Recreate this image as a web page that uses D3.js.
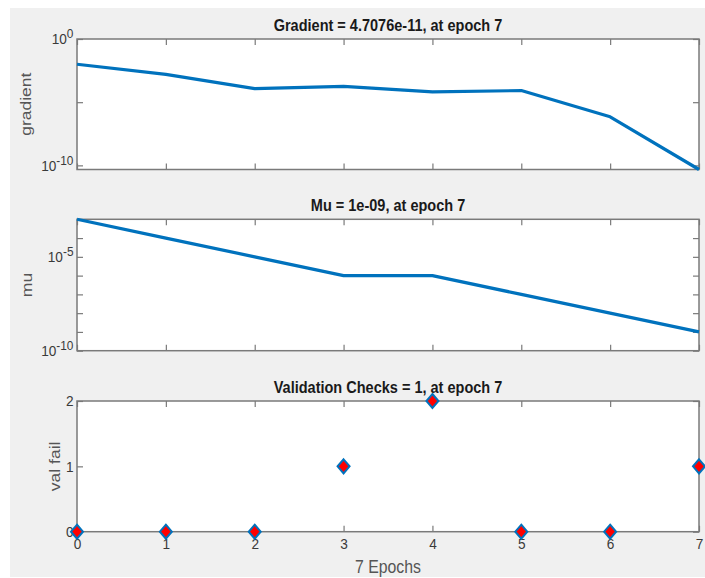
<!DOCTYPE html>
<html>
<head>
<meta charset="utf-8">
<script src="https://cdn.jsdelivr.net/npm/d3@7"></script>
<style>
body { margin: 0; background: #fff; }
svg text { font-family: "Liberation Sans", Arial, sans-serif; }
</style>
</head>
<body>
<div id="chart"></div>
<script>
// values
const epochs = [0, 1, 2, 3, 4, 5, 6, 7]
const gradient = [1e-2, 1.6e-3, 1.2e-4, 1.8e-4, 6.6e-5, 8.3e-5, 7e-7, 4.7076e-11]
const mu = [1e-3, 1e-4, 1e-5, 1e-6, 1e-6, 1e-7, 1e-8, 1e-9]
const valFail = [0, 0, 0, 1, 2, 0, 0, 1]

const titles = ['Gradient = 4.7076e-11, at epoch 7', 'Mu = 1e-09, at epoch 7', 'Validation Checks = 1, at epoch 7']
const yLabels = ['gradient', 'mu', 'val fail']
const gradTickExp = [0, -5, -10]
const gradLabelExp = [0, -10]
const muTickExp = [-4, -5, -6, -7, -8, -9, -10]
const muLabelExp = [-5, -10]
const valTicks = [0, 1, 2]
const xTickLabels = ['0', '1', '2', '3', '4', '5', '6', '7']
const xLabel = '7 Epochs'

const W = 705, H = 578
const left = 77, right = 699
const sx = 0.88 // text in the picture is a little narrow
const blue = '#0072BD', axisCol = '#7a7a7a', txtCol = '#3a3a3a'

const x = d3.scaleLinear().domain([0, 7]).range([left, right])

const svg = d3.select('#chart').append('svg')
  .attr('width', W)
  .attr('height', H)

svg.append('rect')
  .attr('x', 10).attr('y', 8)
  .attr('width', W - 10).attr('height', H - 9)
  .attr('fill', '#f0f0f0')

const panels = [
  {top: 39, bottom: 169.5, values: gradient, log: true, domain: [4.7076e-11, 1],
   ticks: gradTickExp.map(e => Math.pow(10, e)), labelExp: gradLabelExp, labelX: 30.5},
  {top: 219.3, bottom: 350.7, values: mu, log: true, domain: [1e-10, 1e-3],
   ticks: muTickExp.map(e => Math.pow(10, e)), labelExp: muLabelExp, labelX: 31.5},
  {top: 401, bottom: 531.7, values: valFail, log: false, domain: [0, 2],
   ticks: valTicks, labelX: 59.5}
]

function styleAxis(g) {
  g.select('.domain').remove()
  g.selectAll('.tick line').attr('stroke', axisCol).attr('stroke-width', 1.2)
  g.selectAll('.tick text')
    .attr('fill', txtCol)
    .attr('font-size', 15.5)
    .attr('font-family', '"Liberation Sans", Arial, sans-serif')
    .attr('transform', `scale(${sx},1)`)
}

panels.forEach((p, i) => {
  const y = (p.log ? d3.scaleLog() : d3.scaleLinear()).domain(p.domain).range([p.bottom, p.top])
  const g = svg.append('g')

  g.append('rect')
    .attr('x', left).attr('y', p.top)
    .attr('width', right - left).attr('height', p.bottom - p.top)
    .attr('fill', '#fff')

  // x ticks, inward, top and bottom
  const last = i === panels.length - 1
  g.append('g').attr('transform', `translate(0,${p.bottom})`)
    .call(d3.axisBottom(x).tickValues(epochs).tickSize(-6)
      .tickFormat((d, k) => last ? xTickLabels[k] : ''))
    .call(styleAxis)
    .selectAll('.tick text').attr('y', 17.8).attr('dy', null)
  g.append('g').attr('transform', `translate(0,${p.top})`)
    .call(d3.axisTop(x).tickValues(epochs).tickSize(-6).tickFormat(''))
    .call(styleAxis)

  // y ticks left (labelled) and right
  const gl = g.append('g').attr('transform', `translate(${left},0)`)
    .call(d3.axisLeft(y).tickValues(p.ticks).tickSize(-6).tickPadding(4)
      .tickFormat(d => p.log ? '' : d3.format('d')(d)))
    .call(styleAxis)
  if (p.log) {
    gl.selectAll('.tick text').each(function(d) {
      const e = Math.round(Math.log10(d))
      const t = d3.select(this).text(null)
      if (!p.labelExp.includes(e)) return
      t.append('tspan').text('10')
      t.append('tspan').attr('dy', -6).attr('font-size', 13.5).text(e)
    })
  }
  g.append('g').attr('transform', `translate(${right},0)`)
    .call(d3.axisRight(y).tickValues(p.ticks).tickSize(-6).tickFormat(''))
    .call(styleAxis)

  // box
  g.append('rect')
    .attr('x', left).attr('y', p.top)
    .attr('width', right - left).attr('height', p.bottom - p.top)
    .attr('fill', 'none')
    .attr('stroke', axisCol)
    .attr('stroke-width', 1.5)

  // data
  if (p.log) {
    const line = d3.line().x((d, k) => x(epochs[k])).y(d => y(d))
    g.append('path')
      .datum(p.values)
      .attr('d', line)
      .attr('fill', 'none')
      .attr('stroke', blue)
      .attr('stroke-width', 3.2)
      .attr('stroke-linejoin', 'round')
  } else {
    g.selectAll('.marker')
      .data(p.values)
      .enter()
      .append('path')
      .attr('class', 'marker')
      .attr('transform', (d, k) => `translate(${x(epochs[k])},${y(d)})`)
      .attr('d', 'M0,-7L6,0L0,7L-6,0Z')
      .attr('fill', '#ff0000')
      .attr('stroke', blue)
      .attr('stroke-width', 2)
  }

  // title
  g.append('text')
    .attr('transform', `translate(${(left + right) / 2},${p.top - 8}) scale(${sx},1)`)
    .attr('text-anchor', 'middle')
    .attr('font-size', 16.5)
    .attr('font-weight', 'bold')
    .attr('fill', '#1a1a1a')
    .text(titles[i])

  // y label
  g.append('text')
    .attr('transform', `translate(${p.labelX},${(p.top + p.bottom) / 2}) scale(${sx},1) rotate(-90)`)
    .attr('text-anchor', 'middle')
    .attr('font-size', 17.5)
    .attr('fill', '#555')
    .text(yLabels[i])

  if (last) {
    g.append('text')
      .attr('transform', `translate(${(left + right) / 2},572.7) scale(${sx},1)`)
      .attr('text-anchor', 'middle')
      .attr('font-size', 18)
      .attr('fill', '#555')
      .text(xLabel)
  }
})
</script>
</body>
</html>
